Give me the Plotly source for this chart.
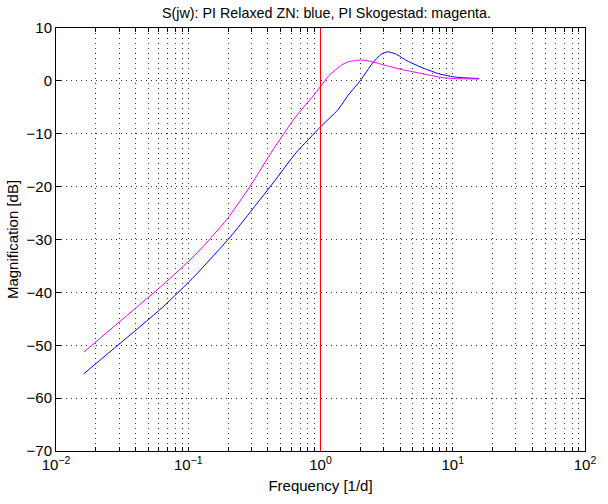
import plotly.graph_objects as go

# Frequency [1/d] and magnitude [dB]
freq_blue = [0.0162, 0.0634, 0.112, 0.21, 0.270, 0.438, 0.653, 1.0, 1.35, 1.62, 2.02,
             2.48, 2.86, 3.21, 3.70, 4.51, 6.0, 7.96, 10.6, 15.8]
mag_blue = [-55.4, -42.9, -36.9, -29.4, -26.0, -19.3, -13.6, -8.7, -5.5, -2.7, 0.2,
            3.4, 5.0, 5.5, 5.1, 3.8, 2.4, 1.3, 0.7, 0.45]

freq_mag = [0.0162, 0.0634, 0.112, 0.196, 0.294, 0.438, 0.653, 0.918, 1.15, 1.445,
            1.62, 2.04, 2.48, 3.02, 4.02, 5.66, 8.4, 11.2, 15.8]
mag_mag = [-51.3, -38.7, -33.0, -26.2, -19.9, -13.0, -6.7, -2.3, 0.9, 3.0,
           3.6, 3.96, 3.6, 3.0, 2.2, 1.45, 0.6, 0.4, 0.35]

ref_freq = 1.0
decades = [-2, -1, 0, 1, 2]
decade_labels = {-2: "10<sup>\u22122</sup>", -1: "10<sup>\u22121</sup>", 0: "10<sup>0</sup>",
                 1: "10<sup>1</sup>", 2: "10<sup>2</sup>"}
x_tickvals = []
x_ticktext = []
for d in decades:
    for m in range(1, 10):
        if d == 2 and m > 1:
            break
        x_tickvals.append(m * 10.0 ** d)
        x_ticktext.append(decade_labels[d] if m == 1 else "")
y_tickvals = [10, 0, -10, -20, -30, -40, -50, -60, -70]
y_ticktext = [str(v).replace("-", "\u2212") for v in y_tickvals]

font = "Liberation Sans, Arial, sans-serif"

fig = go.Figure()
fig.add_trace(go.Scatter(x=freq_blue, y=mag_blue, mode="lines",
                         line=dict(color="#0000ff", width=1, shape="spline", smoothing=0.5),
                         showlegend=False))
fig.add_trace(go.Scatter(x=freq_mag, y=mag_mag, mode="lines",
                         line=dict(color="#ff00ff", width=1, shape="spline", smoothing=0.5),
                         showlegend=False))

fig.add_shape(type="line", xref="x", yref="paper", x0=ref_freq, x1=ref_freq, y0=0, y1=1,
              line=dict(color="#ff0000", width=1))

grid_dash = "1px,4px"
fig.update_layout(
    width=608, height=504,
    margin=dict(l=55, r=13, t=28, b=52),
    paper_bgcolor="white", plot_bgcolor="white",
    font=dict(family=font, size=14, color="black"),
    title=dict(text="S(jw): PI Relaxed ZN: blue, PI Skogestad: magenta.",
               x=0.537, xanchor="center", y=0.974, yanchor="middle",
               font=dict(size=14.3)),
)
fig.update_xaxes(
    type="log", range=[-2, 2],
    tickmode="array", tickvals=x_tickvals, ticktext=x_ticktext,
    ticks="inside", ticklen=4, tickcolor="black",
    showline=True, linecolor="black", linewidth=1, mirror="ticks",
    showgrid=True, gridcolor="#333333", griddash=grid_dash, gridwidth=1,
    zeroline=False,
    title=dict(text="Frequency [1/d]", standoff=8, font=dict(size=15)),
    tickfont=dict(size=15),
)
fig.update_yaxes(
    range=[-70, 10],
    tickvals=y_tickvals, ticktext=y_ticktext,
    ticks="inside", ticklen=5, tickcolor="black",
    showline=True, linecolor="black", linewidth=1, mirror="ticks",
    showgrid=True, gridcolor="#333333", griddash=grid_dash, gridwidth=1,
    zeroline=False,
    title=dict(text="Magnification [dB]", standoff=4, font=dict(size=15)),
    tickfont=dict(size=15),
)

fig.write_html("out.html")
